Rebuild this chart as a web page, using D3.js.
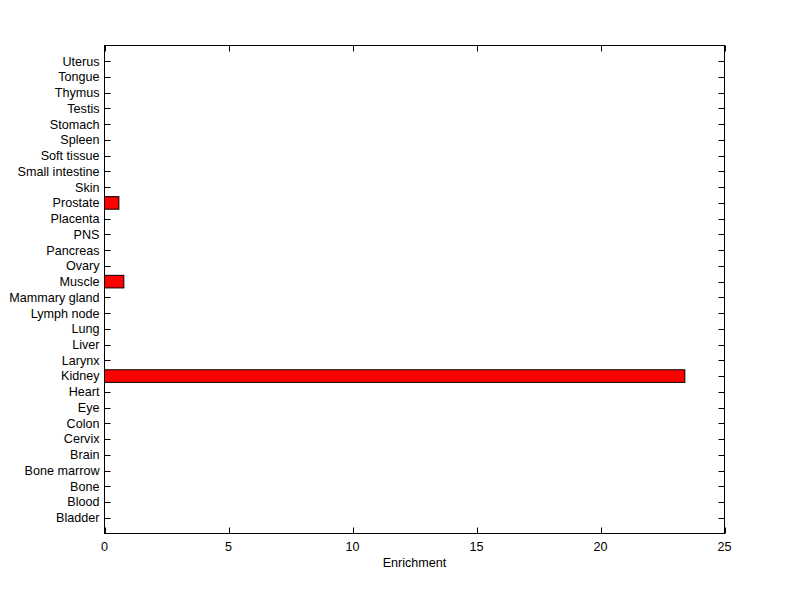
<!DOCTYPE html>
<meta charset="utf-8">
<script src="https://d3js.org/d3.v7.min.js"></script>
<style>
    body {margin: 0; background: #fff; font-family: 'Liberation Sans', Arial, sans-serif;}
    text {font-size: 12.6px; fill: #000;}
</style>
<body>
<svg width="800" height="599"></svg>
<script>
    // tissues, bottom to top
    var tissues = ["Bladder","Blood","Bone","Bone marrow","Brain","Cervix","Colon","Eye","Heart","Kidney",
        "Larynx","Liver","Lung","Lymph node","Mammary gland","Muscle","Ovary","Pancreas","PNS","Placenta",
        "Prostate","Skin","Small intestine","Soft tissue","Spleen","Stomach","Testis","Thymus","Tongue","Uterus"];
    var enrichment = [0,0,0,0,0,0,0,0,0,23.4,
        0,0,0,0,0,0.78,0,0,0,0,
        0.58,0,0,0,0,0,0,0,0,0];
    var xTicks = [0,5,10,15,20,25];

    var svg = d3.select("svg"),
        plotL = 104.5, plotR = 724.5, plotT = 45.5, plotB = 533.5;

    var x = d3.scaleLinear().domain([0,25]).range([plotL, plotR]);
    var y = d3.scaleLinear().domain([0,31]).range([plotB, plotT]);
    var barH = (y(0) - y(0.8));

    var g = svg.append("g");

    var tl = 6;
    // x ticks (bottom and top, inward)
    xTicks.forEach(function(t){
        var px = Math.round(x(t)) + 0.5;
        g.append("line").attr("x1",px).attr("x2",px).attr("y1",plotB).attr("y2",plotB-tl).style("stroke","#000");
        g.append("line").attr("x1",px).attr("x2",px).attr("y1",plotT).attr("y2",plotT+tl).style("stroke","#000");
        g.append("text").attr("x", x(t)).attr("y", plotB+17).attr("text-anchor","middle").text(t);
    });

    // y ticks
    tissues.forEach(function(t,i){
        var py = Math.round(y(i+1)) + 0.5;
        g.append("line").attr("x1",plotL).attr("x2",plotL+tl).attr("y1",py).attr("y2",py).style("stroke","#000");
        g.append("line").attr("x1",plotR).attr("x2",plotR-tl).attr("y1",py).attr("y2",py).style("stroke","#000");
        g.append("text").attr("x", plotL-5).attr("y", y(i+1)).attr("dy","0.35em").attr("text-anchor","end").text(t);
    });

    // bars (drawn over the ticks)
    g.selectAll("rect.bar")
        .data(tissues.map(function(t,i){return {name:t, pos:i+1, v:enrichment[i]};}).filter(function(d){return d.v>0;}))
        .enter().append("rect")
        .attr("class","bar")
        .attr("x", x(0))
        .attr("y", function(d){return y(d.pos) - barH/2;})
        .attr("width", function(d){return x(d.v) - x(0);})
        .attr("height", barH)
        .style("fill","#ff0000")
        .style("stroke","#000")
        .style("stroke-width",1);

    // box
    g.append("rect")
        .attr("x", plotL).attr("y", plotT)
        .attr("width", plotR-plotL).attr("height", plotB-plotT)
        .style("fill","none").style("stroke","#000").style("stroke-width",1);

    g.append("text").attr("x", (plotL+plotR)/2).attr("y", 567).attr("text-anchor","middle").text("Enrichment");
</script>
</body>
